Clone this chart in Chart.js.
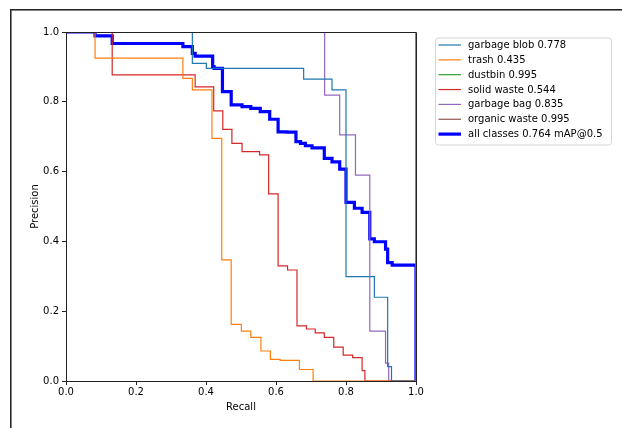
<!DOCTYPE html>
<html lang="en">
<head>
    <meta charset="UTF-8">
    <title>PR Curve</title>
    <style>
        body { margin: 0; background: #fff; }
        canvas { display: block; }
    </style>
</head>
<body>
    <canvas id="pr-chart" width="622" height="428"></canvas>

    <script src="https://cdn.jsdelivr.net/npm/chart.js"></script>
    <script>
        // step points: precision holds from this recall until the next one
        const classNames = ['garbage blob', 'trash', 'dustbin', 'solid waste', 'garbage bag', 'organic waste'];
        const classAP = [0.778, 0.435, 0.995, 0.544, 0.835, 0.995];
        const mAP = 0.764;

        const recallGarbageBlob = [0, 0.361, 0.401, 0.679, 0.760, 0.800, 0.881, 0.919, 0.930, 1.0];
        const precisionGarbageBlob = [1.0, 0.910, 0.896, 0.865, 0.834, 0.299, 0.240, 0.041, 0, 0];

        const recallTrash = [0, 0.083, 0.334, 0.361, 0.417, 0.445, 0.472, 0.501, 0.528, 0.557, 0.584, 0.612, 0.667, 0.706, 1.0];
        const precisionTrash = [1.0, 0.925, 0.867, 0.834, 0.695, 0.347, 0.162, 0.143, 0.125, 0.086, 0.062, 0.059, 0.033, 0, 0];

        const recallDustbin = [0, 1.0, 1.0];
        const precisionDustbin = [1.0, 1.0, 0];

        const recallSolidWaste = [0, 0.132, 0.369, 0.422, 0.448, 0.474, 0.503, 0.553, 0.579, 0.606, 0.633, 0.660, 0.687, 0.712, 0.738, 0.765, 0.792, 0.819, 0.846, 0.854, 1.0];
        const precisionSolidWaste = [1.0, 0.877, 0.843, 0.774, 0.721, 0.681, 0.657, 0.648, 0.536, 0.330, 0.318, 0.158, 0.149, 0.138, 0.125, 0.097, 0.074, 0.067, 0.030, 0, 0];

        const recallGarbageBag = [0, 0.739, 0.782, 0.827, 0.868, 0.913, 0.922, 1.0];
        const precisionGarbageBag = [1.0, 0.819, 0.705, 0.590, 0.143, 0.051, 0, 0];

        const recallOrganicWaste = [0, 1.0, 1.0];
        const precisionOrganicWaste = [1.0, 1.0, 0];

        const recallAll = [0, 0.083, 0.132, 0.334, 0.361, 0.369, 0.419, 0.423, 0.447, 0.472, 0.503, 0.528, 0.555, 0.582, 0.606, 0.631, 0.657, 0.670, 0.684, 0.703, 0.738, 0.760, 0.782, 0.800, 0.824, 0.846, 0.868, 0.881, 0.913, 0.919, 0.932, 1.0, 1.0];
        const precisionAll = [1.0, 0.989, 0.967, 0.958, 0.939, 0.931, 0.901, 0.896, 0.829, 0.791, 0.786, 0.781, 0.772, 0.750, 0.714, 0.713, 0.686, 0.681, 0.674, 0.668, 0.638, 0.628, 0.607, 0.512, 0.495, 0.483, 0.407, 0.399, 0.378, 0.339, 0.332, 0.332, 0];

        const axisTicks = [0, 0.2, 0.4, 0.6, 0.8, 1.0];

        const classColors = ['#1f77b4', '#ff7f0e', '#2ca02c', '#d62728', '#9467bd', '#8c564b'];
        const FONT = 'DejaVu Sans';

        function toPoints(rs, ps) {
            return rs.map((r, i) => ({ x: r, y: ps[i] }));
        }

        const curves = [
            [recallGarbageBlob, precisionGarbageBlob],
            [recallTrash, precisionTrash],
            [recallDustbin, precisionDustbin],
            [recallSolidWaste, precisionSolidWaste],
            [recallGarbageBag, precisionGarbageBag],
            [recallOrganicWaste, precisionOrganicWaste]
        ];

        const datasets = curves.map((c, i) => ({
            label: classNames[i] + ' ' + classAP[i].toFixed(3),
            data: toPoints(c[0], c[1]),
            borderColor: classColors[i],
            borderWidth: 1.2,
            stepped: 'before'
        }));
        datasets.push({
            label: 'all classes ' + mAP.toFixed(3) + ' mAP@0.5',
            data: toPoints(recallAll, precisionAll),
            borderColor: '#0000ff',
            borderWidth: 3.2,
            stepped: 'before'
        });

        // outer frame of the figure
        const framePlugin = {
            id: 'frame',
            beforeDraw(chart) {
                const ctx = chart.ctx;
                ctx.save();
                ctx.strokeStyle = '#2a2a2a';
                ctx.lineWidth = 1.6;
                ctx.strokeRect(10.8, 9.8, 800, 600);
                ctx.restore();
            }
        };

        // top and right spines like matplotlib
        const spinePlugin = {
            id: 'spines',
            afterDatasetsDraw(chart) {
                const { ctx, chartArea: a } = chart;
                ctx.save();
                ctx.strokeStyle = '#222';
                ctx.lineWidth = 1;
                ctx.beginPath();
                ctx.moveTo(a.left, a.top + 0.5);
                ctx.lineTo(a.right + 0.5, a.top + 0.5);
                ctx.lineTo(a.right + 0.5, a.bottom);
                ctx.stroke();
                ctx.restore();
            }
        };

        // legend box in the upper right
        const legendPlugin = {
            id: 'boxLegend',
            afterDraw(chart) {
                const ctx = chart.ctx;
                const x0 = 435, y0 = 37.5, w = 176, h = 107, r = 3;
                ctx.save();
                ctx.beginPath();
                ctx.roundRect(x0 + 0.5, y0 + 0.5, w, h, r);
                ctx.fillStyle = 'rgba(255,255,255,0.8)';
                ctx.fill();
                ctx.strokeStyle = '#d6d6d6';
                ctx.lineWidth = 1;
                ctx.stroke();
                ctx.font = '10px "' + FONT + '"';
                ctx.textBaseline = 'middle';
                chart.data.datasets.forEach((ds, i) => {
                    const y = 45 + i * 14.85;
                    ctx.beginPath();
                    ctx.moveTo(438.5, y);
                    ctx.lineTo(461, y);
                    ctx.strokeStyle = ds.borderColor;
                    ctx.lineWidth = ds.borderWidth;
                    ctx.stroke();
                    ctx.fillStyle = '#000';
                    ctx.fillText(ds.label, 468, y + 0.5);
                });
                ctx.restore();
            }
        };

        const tickFont = { family: FONT, size: 10 };

        new Chart(document.getElementById('pr-chart'), {
            type: 'line',
            data: { datasets: datasets },
            options: {
                responsive: false,
                animation: false,
                layout: { padding: { left: 25, top: 32, right: 206, bottom: 11 } },
                elements: { point: { radius: 0 }, line: { tension: 0 } },
                plugins: { legend: { display: false }, tooltip: { enabled: false } },
                scales: {
                    x: {
                        type: 'linear',
                        min: 0, max: 1,
                        afterBuildTicks: s => { s.ticks = axisTicks.map(v => ({ value: v })); },
                        afterFit: s => { s.height = 36; },
                        ticks: {
                            color: '#000', font: tickFont, padding: 1, maxRotation: 0,
                            callback: v => Number(v).toFixed(1)
                        },
                        grid: { drawOnChartArea: false, drawTicks: true, tickLength: 4, color: '#222' },
                        border: { display: true, color: '#222', width: 1 },
                        title: { display: true, text: 'Recall', color: '#000', font: tickFont, padding: { top: 2, bottom: 4 } }
                    },
                    y: {
                        type: 'linear',
                        min: 0, max: 1,
                        afterBuildTicks: s => { s.ticks = axisTicks.map(v => ({ value: v })); },
                        afterFit: s => { s.width = 41; },
                        ticks: {
                            color: '#000', font: tickFont, padding: 3,
                            callback: v => Number(v).toFixed(1)
                        },
                        grid: { drawOnChartArea: false, drawTicks: true, tickLength: 4, color: '#222' },
                        border: { display: true, color: '#222', width: 1 },
                        title: { display: true, text: 'Precision', color: '#000', font: tickFont, padding: { top: 4, bottom: 4 } }
                    }
                }
            },
            plugins: [framePlugin, spinePlugin, legendPlugin]
        });
    </script>
</body>
</html>
